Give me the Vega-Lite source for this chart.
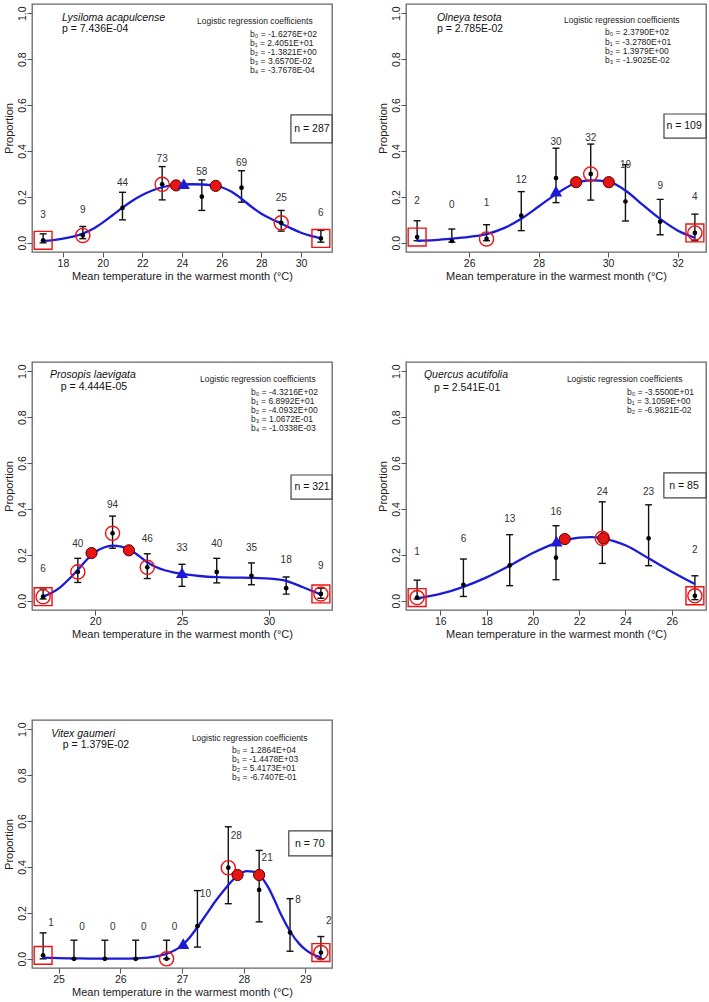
{
"$schema": "https://vega.github.io/schema/vega-lite/v6.json",
"background": "white",
"padding": {"left": 2, "top": 3, "right": 0, "bottom": 0},
"config": {
 "font": "Liberation Sans",
 "view": {"stroke": "#666", "strokeWidth": 1.3},
 "axis": {"domain": false, "grid": false, "tickColor": "#555", "tickSize": 5, "tickWidth": 1, "labelColor": "#222", "labelFontSize": 10.5, "labelFont": "Liberation Sans", "titleFont": "Liberation Sans", "titleFontSize": 11, "titleFontWeight": "normal", "titleColor": "#222", "labelPadding": 1},
 "axisX": {"titlePadding": 2, "format": "d"},
 "axisY": {"labelAngle": 270, "labelAlign": "center", "labelBaseline": "bottom", "labelPadding": 0, "titlePadding": 3},
 "text": {"font": "Liberation Sans"}
},
"datasets": {
 "pts": [
  {"sp":"L","t":17,"p":0.011,"lo":0.0,"hi":0.039,"n":3,"mk":"s"},
  {"sp":"L","t":19,"p":0.032,"lo":0.018,"hi":0.071,"n":9,"mk":"c"},
  {"sp":"L","t":21,"p":0.152,"lo":0.1,"hi":0.22,"n":44,"mk":"-"},
  {"sp":"L","t":23,"p":0.255,"lo":0.187,"hi":0.332,"n":73,"mk":"c"},
  {"sp":"L","t":25,"p":0.201,"lo":0.141,"hi":0.274,"n":58,"mk":"-"},
  {"sp":"L","t":27,"p":0.24,"lo":0.177,"hi":0.314,"n":69,"mk":"-"},
  {"sp":"L","t":29,"p":0.087,"lo":0.051,"hi":0.141,"n":25,"mk":"c"},
  {"sp":"L","t":31,"p":0.019,"lo":0.003,"hi":0.054,"n":6,"mk":"s"},
  {"sp":"O","t":24.5,"p":0.025,"lo":0.009,"hi":0.096,"n":2,"mk":"s"},
  {"sp":"O","t":25.5,"p":0.008,"lo":0.003,"hi":0.06,"n":0,"mk":"-"},
  {"sp":"O","t":26.5,"p":0.017,"lo":0.009,"hi":0.079,"n":1,"mk":"c"},
  {"sp":"O","t":27.5,"p":0.118,"lo":0.053,"hi":0.223,"n":12,"mk":"-"},
  {"sp":"O","t":28.5,"p":0.282,"lo":0.175,"hi":0.412,"n":30,"mk":"-"},
  {"sp":"O","t":29.5,"p":0.3,"lo":0.186,"hi":0.43,"n":32,"mk":"c"},
  {"sp":"O","t":30.5,"p":0.18,"lo":0.095,"hi":0.34,"n":19,"mk":"-"},
  {"sp":"O","t":31.5,"p":0.092,"lo":0.035,"hi":0.189,"n":9,"mk":"-"},
  {"sp":"O","t":32.5,"p":0.043,"lo":0.009,"hi":0.125,"n":4,"mk":"b"},
  {"sp":"P","t":17,"p":0.018,"lo":0.008,"hi":0.051,"n":6,"mk":"b"},
  {"sp":"P","t":19,"p":0.126,"lo":0.08,"hi":0.185,"n":40,"mk":"c"},
  {"sp":"P","t":21,"p":0.294,"lo":0.229,"hi":0.369,"n":94,"mk":"c"},
  {"sp":"P","t":23,"p":0.146,"lo":0.097,"hi":0.205,"n":46,"mk":"c"},
  {"sp":"P","t":25,"p":0.109,"lo":0.063,"hi":0.159,"n":33,"mk":"-"},
  {"sp":"P","t":27,"p":0.126,"lo":0.078,"hi":0.185,"n":40,"mk":"-"},
  {"sp":"P","t":29,"p":0.109,"lo":0.07,"hi":0.165,"n":35,"mk":"-"},
  {"sp":"P","t":31,"p":0.055,"lo":0.029,"hi":0.104,"n":18,"mk":"-"},
  {"sp":"P","t":33,"p":0.03,"lo":0.011,"hi":0.055,"n":9,"mk":"b"},
  {"sp":"Q","t":15,"p":0.014,"lo":0.008,"hi":0.09,"n":1,"mk":"b"},
  {"sp":"Q","t":17,"p":0.07,"lo":0.019,"hi":0.182,"n":6,"mk":"-"},
  {"sp":"Q","t":19,"p":0.154,"lo":0.066,"hi":0.288,"n":13,"mk":"-"},
  {"sp":"Q","t":21,"p":0.188,"lo":0.092,"hi":0.327,"n":16,"mk":"-"},
  {"sp":"Q","t":23,"p":0.272,"lo":0.163,"hi":0.431,"n":24,"mk":"c"},
  {"sp":"Q","t":25,"p":0.272,"lo":0.153,"hi":0.418,"n":23,"mk":"-"},
  {"sp":"Q","t":27,"p":0.022,"lo":0.005,"hi":0.109,"n":2,"mk":"b"},
  {"sp":"V","t":24.75,"p":0.015,"lo":0,"hi":0.113,"n":1,"mk":"s"},
  {"sp":"V","t":25.25,"p":0,"lo":0,"hi":0.081,"n":0,"mk":"-"},
  {"sp":"V","t":25.75,"p":0,"lo":0,"hi":0.081,"n":0,"mk":"-"},
  {"sp":"V","t":26.25,"p":0,"lo":0,"hi":0.081,"n":0,"mk":"-"},
  {"sp":"V","t":26.75,"p":0,"lo":0,"hi":0.081,"n":0,"mk":"c"},
  {"sp":"V","t":27.25,"p":0.142,"lo":0.051,"hi":0.297,"n":10,"mk":"-"},
  {"sp":"V","t":27.75,"p":0.397,"lo":0.24,"hi":0.575,"n":28,"mk":"c"},
  {"sp":"V","t":28.25,"p":0.3,"lo":0.161,"hi":0.472,"n":21,"mk":"-"},
  {"sp":"V","t":28.75,"p":0.115,"lo":0.033,"hi":0.262,"n":8,"mk":"-"},
  {"sp":"V","t":29.25,"p":0.027,"lo":0,"hi":0.097,"n":2,"mk":"b"}
 ],
 "curve": [
  {"sp":"L","t":17,"p":0.008},{"sp":"L","t":17.5,"p":0.012},{"sp":"L","t":18,"p":0.018},{"sp":"L","t":18.5,"p":0.027},{"sp":"L","t":19,"p":0.04},{"sp":"L","t":19.5,"p":0.06},{"sp":"L","t":20,"p":0.088},{"sp":"L","t":20.5,"p":0.12},{"sp":"L","t":21,"p":0.153},{"sp":"L","t":21.5,"p":0.183},{"sp":"L","t":22,"p":0.208},{"sp":"L","t":22.5,"p":0.228},{"sp":"L","t":23,"p":0.242},{"sp":"L","t":23.5,"p":0.25},{"sp":"L","t":24,"p":0.254},{"sp":"L","t":24.5,"p":0.255},{"sp":"L","t":25,"p":0.254},{"sp":"L","t":25.5,"p":0.25},{"sp":"L","t":26,"p":0.242},{"sp":"L","t":26.5,"p":0.222},{"sp":"L","t":27,"p":0.192},{"sp":"L","t":27.5,"p":0.157},{"sp":"L","t":28,"p":0.127},{"sp":"L","t":28.5,"p":0.104},{"sp":"L","t":29,"p":0.084},{"sp":"L","t":29.5,"p":0.063},{"sp":"L","t":30,"p":0.044},{"sp":"L","t":30.5,"p":0.03},{"sp":"L","t":31,"p":0.019},
  {"sp":"O","t":24.5,"p":0.009},{"sp":"O","t":25,"p":0.012},{"sp":"O","t":25.5,"p":0.018},{"sp":"O","t":26,"p":0.026},{"sp":"O","t":26.5,"p":0.038},{"sp":"O","t":27,"p":0.064},{"sp":"O","t":27.5,"p":0.105},{"sp":"O","t":28,"p":0.158},{"sp":"O","t":28.5,"p":0.212},{"sp":"O","t":29,"p":0.256},{"sp":"O","t":29.5,"p":0.272},{"sp":"O","t":30,"p":0.266},{"sp":"O","t":30.5,"p":0.228},{"sp":"O","t":31,"p":0.165},{"sp":"O","t":31.5,"p":0.104},{"sp":"O","t":32,"p":0.054},{"sp":"O","t":32.5,"p":0.022},
  {"sp":"P","t":17,"p":0.018},{"sp":"P","t":17.5,"p":0.035},{"sp":"P","t":18,"p":0.06},{"sp":"P","t":18.5,"p":0.095},{"sp":"P","t":19,"p":0.135},{"sp":"P","t":19.5,"p":0.178},{"sp":"P","t":20,"p":0.212},{"sp":"P","t":20.5,"p":0.232},{"sp":"P","t":21,"p":0.24},{"sp":"P","t":21.5,"p":0.236},{"sp":"P","t":22,"p":0.222},{"sp":"P","t":22.5,"p":0.197},{"sp":"P","t":23,"p":0.168},{"sp":"P","t":23.5,"p":0.147},{"sp":"P","t":24,"p":0.133},{"sp":"P","t":24.5,"p":0.124},{"sp":"P","t":25,"p":0.117},{"sp":"P","t":26,"p":0.108},{"sp":"P","t":27,"p":0.103},{"sp":"P","t":28,"p":0.101},{"sp":"P","t":29,"p":0.1},{"sp":"P","t":30,"p":0.097},{"sp":"P","t":31,"p":0.087},{"sp":"P","t":32,"p":0.058},{"sp":"P","t":33,"p":0.027},
  {"sp":"Q","t":15,"p":0.011},{"sp":"Q","t":16,"p":0.03},{"sp":"Q","t":17,"p":0.061},{"sp":"Q","t":18,"p":0.102},{"sp":"Q","t":19,"p":0.153},{"sp":"Q","t":20,"p":0.208},{"sp":"Q","t":21,"p":0.251},{"sp":"Q","t":21.5,"p":0.266},{"sp":"Q","t":22,"p":0.275},{"sp":"Q","t":22.5,"p":0.277},{"sp":"Q","t":23,"p":0.272},{"sp":"Q","t":23.5,"p":0.26},{"sp":"Q","t":24,"p":0.242},{"sp":"Q","t":25,"p":0.185},{"sp":"Q","t":26,"p":0.127},{"sp":"Q","t":27,"p":0.073},
  {"sp":"V","t":24.75,"p":0.005},{"sp":"V","t":25,"p":0.003},{"sp":"V","t":25.25,"p":0.002},{"sp":"V","t":25.5,"p":0.001},{"sp":"V","t":25.75,"p":0.001},{"sp":"V","t":26,"p":0.001},{"sp":"V","t":26.25,"p":0.002},{"sp":"V","t":26.5,"p":0.007},{"sp":"V","t":26.75,"p":0.022},{"sp":"V","t":27,"p":0.058},{"sp":"V","t":27.1,"p":0.085},{"sp":"V","t":27.25,"p":0.138},{"sp":"V","t":27.4,"p":0.196},{"sp":"V","t":27.55,"p":0.254},{"sp":"V","t":27.7,"p":0.305},{"sp":"V","t":27.8,"p":0.337},{"sp":"V","t":27.9,"p":0.362},{"sp":"V","t":28.05,"p":0.382},{"sp":"V","t":28.15,"p":0.38},{"sp":"V","t":28.25,"p":0.366},{"sp":"V","t":28.4,"p":0.31},{"sp":"V","t":28.5,"p":0.255},{"sp":"V","t":28.6,"p":0.195},{"sp":"V","t":28.75,"p":0.12},{"sp":"V","t":28.9,"p":0.065},{"sp":"V","t":29,"p":0.04},{"sp":"V","t":29.1,"p":0.022},{"sp":"V","t":29.25,"p":0.006}
 ],
 "opt": [
  {"sp":"L","k":"m","t":23.7,"p":0.25},{"sp":"L","k":"m","t":25.7,"p":0.248},{"sp":"L","k":"t","t":24.09,"p":0.257},
  {"sp":"O","k":"m","t":29.08,"p":0.264},{"sp":"O","k":"m","t":30.02,"p":0.264},{"sp":"O","k":"t","t":28.5,"p":0.225},
  {"sp":"P","k":"m","t":19.79,"p":0.208},{"sp":"P","k":"m","t":21.94,"p":0.22},{"sp":"P","k":"t","t":25,"p":0.122},
  {"sp":"Q","k":"m","t":21.38,"p":0.269},{"sp":"Q","k":"m","t":23.04,"p":0.272},{"sp":"Q","k":"t","t":21.02,"p":0.26},
  {"sp":"V","k":"m","t":27.9,"p":0.365},{"sp":"V","k":"m","t":28.25,"p":0.365},{"sp":"V","k":"t","t":27.02,"p":0.066}
 ],
 "info": [
  {"sp":"L","name":"Lysiloma acapulcense","pv":"p = 7.436E-04","n":"n = 287","coef":["b₀ = -1.6276E+02","b₁ = 2.4051E+01","b₂ = -1.3821E+00","b₃ = 3.6570E-02","b₄ = -3.7678E-04"]},
  {"sp":"O","name":"Olneya tesota","pv":"p = 2.785E-02","n":"n = 109","coef":["b₀ = 2.3790E+02","b₁ = -3.2780E+01","b₂ = 1.3979E+00","b₃ = -1.9025E-02"]},
  {"sp":"P","name":"Prosopis laevigata","pv":"p = 4.444E-05","n":"n = 321","coef":["b₀ = -4.3216E+02","b₁ = 6.8992E+01","b₂ = -4.0932E+00","b₃ = 1.0672E-01","b₄ = -1.0338E-03"]},
  {"sp":"Q","name":"Quercus acutifolia","pv":"p = 2.541E-01","n":"n = 85","coef":["b₀ = -3.5500E+01","b₁ = 3.1059E+00","b₂ = -6.9821E-02"]},
  {"sp":"V","name":"Vitex gaumeri","pv":"p = 1.379E-02","n":"n = 70","coef":["b₀ = 1.2864E+04","b₁ = -1.4478E+03","b₂ = 5.4173E+01","b₃ = -6.7407E-01"]}
 ]
},
"columns": 2,
"spacing": {"row": 78, "column": 42},
"concat": [
 {"width": 300, "height": 248, "layer": [
  {"data":{"name":"pts"},"transform":[{"filter":"datum.sp==='L'"}],"mark":{"type":"rule","color":"#111","strokeWidth":1.4},
   "encoding":{"x":{"field":"t","type":"quantitative","scale":{"domain":[16.44,31.56],"nice":false,"zero":false},"axis":{"values":[18,20,22,24,26,28,30]},"title":"Mean temperature in the warmest month (°C)"},
    "y":{"field":"lo","type":"quantitative","scale":{"domain":[-0.04,1.04],"nice":false,"zero":false},"axis":{"values":[0,0.2,0.4,0.6,0.8,1],"format":".1f"},"title":"Proportion"},"y2":{"field":"hi"}}},
  {"data":{"name":"pts"},"transform":[{"filter":"datum.sp==='L'"}],"mark":{"type":"tick","orient":"horizontal","color":"#111","size":7,"thickness":1.4,"opacity":1},"encoding":{"x":{"field":"t","type":"quantitative"},"y":{"field":"lo","type":"quantitative"}}},
  {"data":{"name":"pts"},"transform":[{"filter":"datum.sp==='L'"}],"mark":{"type":"tick","orient":"horizontal","color":"#111","size":7,"thickness":1.4,"opacity":1},"encoding":{"x":{"field":"t","type":"quantitative"},"y":{"field":"hi","type":"quantitative"}}},
  {"data":{"name":"curve"},"transform":[{"filter":"datum.sp==='L'"}],"mark":{"type":"line","color":"#1a1ad8","strokeWidth":2.3,"interpolate":"monotone"},"encoding":{"x":{"field":"t","type":"quantitative"},"y":{"field":"p","type":"quantitative"}}},
  {"data":{"name":"pts"},"transform":[{"filter":"datum.sp==='L'"}],"mark":{"type":"circle","color":"#000","size":22,"opacity":1},"encoding":{"x":{"field":"t","type":"quantitative"},"y":{"field":"p","type":"quantitative"}}},
  {"data":{"name":"pts"},"transform":[{"filter":"datum.sp==='L' && (datum.mk==='c' || datum.mk==='b')"}],"mark":{"type":"point","shape":"circle","filled":false,"color":"#f01010","strokeWidth":1.4,"size":200,"opacity":1},"encoding":{"x":{"field":"t","type":"quantitative"},"y":{"field":"p","type":"quantitative"}}},
  {"data":{"name":"pts"},"transform":[{"filter":"datum.sp==='L' && (datum.mk==='s' || datum.mk==='b')"}],"mark":{"type":"point","shape":"square","filled":false,"color":"#f01010","strokeWidth":1.4,"size":320,"opacity":1},"encoding":{"x":{"field":"t","type":"quantitative"},"y":{"field":"p","type":"quantitative"}}},
  {"data":{"name":"opt"},"transform":[{"filter":"datum.sp==='L' && datum.k==='m'"}],"mark":{"type":"circle","color":"#e81414","stroke":"#500","strokeWidth":1,"size":125,"opacity":1},"encoding":{"x":{"field":"t","type":"quantitative"},"y":{"field":"p","type":"quantitative"}}},
  {"data":{"name":"opt"},"transform":[{"filter":"datum.sp==='L' && datum.k==='t'"}],"mark":{"type":"point","shape":"triangle-up","filled":true,"color":"#1a1ad8","size":150,"opacity":1},"encoding":{"x":{"field":"t","type":"quantitative"},"y":{"field":"p","type":"quantitative"}}},
  {"data":{"name":"pts"},"transform":[{"filter":"datum.sp==='L'"}],"mark":{"type":"text","fontSize":10,"color":"#333","dy":-25},"encoding":{"x":{"field":"t","type":"quantitative"},"y":{"field":"p","type":"quantitative"},"text":{"field":"n","type":"nominal"}}},
  {"data":{"name":"info"},"transform":[{"filter":"datum.sp==='L'"}],"mark":{"type":"text","fontSize":10.5,"fontStyle":"italic","align":"left","color":"#111"},"encoding":{"x":{"datum":17.95},"y":{"datum":0.979},"text":{"field":"name","type":"nominal"}}},
  {"data":{"name":"info"},"transform":[{"filter":"datum.sp==='L'"}],"mark":{"type":"text","fontSize":10.5,"align":"left","color":"#111"},"encoding":{"x":{"datum":17.95},"y":{"datum":0.931},"text":{"field":"pv","type":"nominal"}}},
  {"data":{"name":"info"},"transform":[{"filter":"datum.sp==='L'"}],"mark":{"type":"text","fontSize":8.5,"align":"left","color":"#222","text":"Logistic regression coefficients"},"encoding":{"x":{"datum":24.76},"y":{"datum":0.966}}},
  {"data":{"name":"info"},"transform":[{"filter":"datum.sp==='L'"}],"mark":{"type":"text","fontSize":8.5,"align":"left","baseline":"top","lineHeight":9.2,"color":"#222"},"encoding":{"x":{"datum":27.43},"y":{"datum":0.9285},"text":{"field":"coef","type":"nominal"}}},
  {"data":{"name":"info"},"transform":[{"filter":"datum.sp==='L'"}],"mark":{"type":"rect","fill":"white","stroke":"#444","strokeWidth":1.2},"encoding":{"x":{"datum":29.49},"x2":{"datum":31.56},"y":{"datum":0.557},"y2":{"datum":0.435}}},
  {"data":{"name":"info"},"transform":[{"filter":"datum.sp==='L'"}],"mark":{"type":"text","fontSize":10.5,"color":"#111"},"encoding":{"x":{"datum":30.55},"y":{"datum":0.496},"text":{"field":"n","type":"nominal"}}}
 ]},
 {"width": 300, "height": 248, "layer": [
  {"data":{"name":"pts"},"transform":[{"filter":"datum.sp==='O'"}],"mark":{"type":"rule","color":"#111","strokeWidth":1.4},
   "encoding":{"x":{"field":"t","type":"quantitative","scale":{"domain":[24.18,32.82],"nice":false,"zero":false},"axis":{"values":[26,28,30,32]},"title":"Mean temperature in the warmest month (°C)"},
    "y":{"field":"lo","type":"quantitative","scale":{"domain":[-0.04,1.04],"nice":false,"zero":false},"axis":{"values":[0,0.2,0.4,0.6,0.8,1],"format":".1f"},"title":"Proportion"},"y2":{"field":"hi"}}},
  {"data":{"name":"pts"},"transform":[{"filter":"datum.sp==='O'"}],"mark":{"type":"tick","orient":"horizontal","color":"#111","size":7,"thickness":1.4,"opacity":1},"encoding":{"x":{"field":"t","type":"quantitative"},"y":{"field":"lo","type":"quantitative"}}},
  {"data":{"name":"pts"},"transform":[{"filter":"datum.sp==='O'"}],"mark":{"type":"tick","orient":"horizontal","color":"#111","size":7,"thickness":1.4,"opacity":1},"encoding":{"x":{"field":"t","type":"quantitative"},"y":{"field":"hi","type":"quantitative"}}},
  {"data":{"name":"curve"},"transform":[{"filter":"datum.sp==='O'"}],"mark":{"type":"line","color":"#1a1ad8","strokeWidth":2.3,"interpolate":"monotone"},"encoding":{"x":{"field":"t","type":"quantitative"},"y":{"field":"p","type":"quantitative"}}},
  {"data":{"name":"pts"},"transform":[{"filter":"datum.sp==='O'"}],"mark":{"type":"circle","color":"#000","size":22,"opacity":1},"encoding":{"x":{"field":"t","type":"quantitative"},"y":{"field":"p","type":"quantitative"}}},
  {"data":{"name":"pts"},"transform":[{"filter":"datum.sp==='O' && (datum.mk==='c' || datum.mk==='b')"}],"mark":{"type":"point","shape":"circle","filled":false,"color":"#f01010","strokeWidth":1.4,"size":200,"opacity":1},"encoding":{"x":{"field":"t","type":"quantitative"},"y":{"field":"p","type":"quantitative"}}},
  {"data":{"name":"pts"},"transform":[{"filter":"datum.sp==='O' && (datum.mk==='s' || datum.mk==='b')"}],"mark":{"type":"point","shape":"square","filled":false,"color":"#f01010","strokeWidth":1.4,"size":320,"opacity":1},"encoding":{"x":{"field":"t","type":"quantitative"},"y":{"field":"p","type":"quantitative"}}},
  {"data":{"name":"opt"},"transform":[{"filter":"datum.sp==='O' && datum.k==='m'"}],"mark":{"type":"circle","color":"#e81414","stroke":"#500","strokeWidth":1,"size":125,"opacity":1},"encoding":{"x":{"field":"t","type":"quantitative"},"y":{"field":"p","type":"quantitative"}}},
  {"data":{"name":"opt"},"transform":[{"filter":"datum.sp==='O' && datum.k==='t'"}],"mark":{"type":"point","shape":"triangle-up","filled":true,"color":"#1a1ad8","size":150,"opacity":1},"encoding":{"x":{"field":"t","type":"quantitative"},"y":{"field":"p","type":"quantitative"}}},
  {"data":{"name":"pts"},"transform":[{"filter":"datum.sp==='O'"}],"mark":{"type":"text","fontSize":10,"color":"#333","dy":-36},"encoding":{"x":{"field":"t","type":"quantitative"},"y":{"field":"p","type":"quantitative"},"text":{"field":"n","type":"nominal"}}},
  {"data":{"name":"info"},"transform":[{"filter":"datum.sp==='O'"}],"mark":{"type":"text","fontSize":10.5,"fontStyle":"italic","align":"left","color":"#111"},"encoding":{"x":{"datum":25.07},"y":{"datum":0.979},"text":{"field":"name","type":"nominal"}}},
  {"data":{"name":"info"},"transform":[{"filter":"datum.sp==='O'"}],"mark":{"type":"text","fontSize":10.5,"align":"left","color":"#111"},"encoding":{"x":{"datum":25.07},"y":{"datum":0.931},"text":{"field":"pv","type":"nominal"}}},
  {"data":{"name":"info"},"transform":[{"filter":"datum.sp==='O'"}],"mark":{"type":"text","fontSize":8.5,"align":"left","color":"#222","text":"Logistic regression coefficients"},"encoding":{"x":{"datum":28.73},"y":{"datum":0.97}}},
  {"data":{"name":"info"},"transform":[{"filter":"datum.sp==='O'"}],"mark":{"type":"text","fontSize":8.5,"align":"left","baseline":"top","lineHeight":9.1,"color":"#222"},"encoding":{"x":{"datum":29.91},"y":{"datum":0.9335},"text":{"field":"coef","type":"nominal"}}},
  {"data":{"name":"info"},"transform":[{"filter":"datum.sp==='O'"}],"mark":{"type":"rect","fill":"white","stroke":"#444","strokeWidth":1.2},"encoding":{"x":{"datum":31.61},"x2":{"datum":32.82},"y":{"datum":0.561},"y2":{"datum":0.456}}},
  {"data":{"name":"info"},"transform":[{"filter":"datum.sp==='O'"}],"mark":{"type":"text","fontSize":10.5,"color":"#111"},"encoding":{"x":{"datum":32.19},"y":{"datum":0.509},"text":{"field":"n","type":"nominal"}}}
 ]},
 {"width": 300, "height": 248, "layer": [
  {"data":{"name":"pts"},"transform":[{"filter":"datum.sp==='P'"}],"mark":{"type":"rule","color":"#111","strokeWidth":1.4},
   "encoding":{"x":{"field":"t","type":"quantitative","scale":{"domain":[16.36,33.64],"nice":false,"zero":false},"axis":{"values":[20,25,30]},"title":"Mean temperature in the warmest month (°C)"},
    "y":{"field":"lo","type":"quantitative","scale":{"domain":[-0.04,1.04],"nice":false,"zero":false},"axis":{"values":[0,0.2,0.4,0.6,0.8,1],"format":".1f"},"title":"Proportion"},"y2":{"field":"hi"}}},
  {"data":{"name":"pts"},"transform":[{"filter":"datum.sp==='P'"}],"mark":{"type":"tick","orient":"horizontal","color":"#111","size":7,"thickness":1.4,"opacity":1},"encoding":{"x":{"field":"t","type":"quantitative"},"y":{"field":"lo","type":"quantitative"}}},
  {"data":{"name":"pts"},"transform":[{"filter":"datum.sp==='P'"}],"mark":{"type":"tick","orient":"horizontal","color":"#111","size":7,"thickness":1.4,"opacity":1},"encoding":{"x":{"field":"t","type":"quantitative"},"y":{"field":"hi","type":"quantitative"}}},
  {"data":{"name":"curve"},"transform":[{"filter":"datum.sp==='P'"}],"mark":{"type":"line","color":"#1a1ad8","strokeWidth":2.3,"interpolate":"monotone"},"encoding":{"x":{"field":"t","type":"quantitative"},"y":{"field":"p","type":"quantitative"}}},
  {"data":{"name":"pts"},"transform":[{"filter":"datum.sp==='P'"}],"mark":{"type":"circle","color":"#000","size":22,"opacity":1},"encoding":{"x":{"field":"t","type":"quantitative"},"y":{"field":"p","type":"quantitative"}}},
  {"data":{"name":"pts"},"transform":[{"filter":"datum.sp==='P' && (datum.mk==='c' || datum.mk==='b')"}],"mark":{"type":"point","shape":"circle","filled":false,"color":"#f01010","strokeWidth":1.4,"size":200,"opacity":1},"encoding":{"x":{"field":"t","type":"quantitative"},"y":{"field":"p","type":"quantitative"}}},
  {"data":{"name":"pts"},"transform":[{"filter":"datum.sp==='P' && (datum.mk==='s' || datum.mk==='b')"}],"mark":{"type":"point","shape":"square","filled":false,"color":"#f01010","strokeWidth":1.4,"size":320,"opacity":1},"encoding":{"x":{"field":"t","type":"quantitative"},"y":{"field":"p","type":"quantitative"}}},
  {"data":{"name":"opt"},"transform":[{"filter":"datum.sp==='P' && datum.k==='m'"}],"mark":{"type":"circle","color":"#e81414","stroke":"#500","strokeWidth":1,"size":125,"opacity":1},"encoding":{"x":{"field":"t","type":"quantitative"},"y":{"field":"p","type":"quantitative"}}},
  {"data":{"name":"opt"},"transform":[{"filter":"datum.sp==='P' && datum.k==='t'"}],"mark":{"type":"point","shape":"triangle-up","filled":true,"color":"#1a1ad8","size":150,"opacity":1},"encoding":{"x":{"field":"t","type":"quantitative"},"y":{"field":"p","type":"quantitative"}}},
  {"data":{"name":"pts"},"transform":[{"filter":"datum.sp==='P'"}],"mark":{"type":"text","fontSize":10,"color":"#333","dy":-28},"encoding":{"x":{"field":"t","type":"quantitative"},"y":{"field":"p","type":"quantitative"},"text":{"field":"n","type":"nominal"}}},
  {"data":{"name":"info"},"transform":[{"filter":"datum.sp==='P'"}],"mark":{"type":"text","fontSize":10.5,"fontStyle":"italic","align":"center","color":"#111"},"encoding":{"x":{"datum":19.87},"y":{"datum":0.983},"text":{"field":"name","type":"nominal"}}},
  {"data":{"name":"info"},"transform":[{"filter":"datum.sp==='P'"}],"mark":{"type":"text","fontSize":10.5,"align":"center","color":"#111"},"encoding":{"x":{"datum":19.93},"y":{"datum":0.931},"text":{"field":"pv","type":"nominal"}}},
  {"data":{"name":"info"},"transform":[{"filter":"datum.sp==='P'"}],"mark":{"type":"text","fontSize":8.5,"align":"left","color":"#222","text":"Logistic regression coefficients"},"encoding":{"x":{"datum":26.04},"y":{"datum":0.966}}},
  {"data":{"name":"info"},"transform":[{"filter":"datum.sp==='P'"}],"mark":{"type":"text","fontSize":8.5,"align":"left","baseline":"top","lineHeight":9.1,"color":"#222"},"encoding":{"x":{"datum":28.98},"y":{"datum":0.927},"text":{"field":"coef","type":"nominal"}}},
  {"data":{"name":"info"},"transform":[{"filter":"datum.sp==='P'"}],"mark":{"type":"rect","fill":"white","stroke":"#444","strokeWidth":1.2},"encoding":{"x":{"datum":31.28},"x2":{"datum":33.64},"y":{"datum":0.548},"y2":{"datum":0.443}}},
  {"data":{"name":"info"},"transform":[{"filter":"datum.sp==='P'"}],"mark":{"type":"text","fontSize":10.5,"color":"#111"},"encoding":{"x":{"datum":32.49},"y":{"datum":0.496},"text":{"field":"n","type":"nominal"}}}
 ]},
 {"width": 300, "height": 248, "layer": [
  {"data":{"name":"pts"},"transform":[{"filter":"datum.sp==='Q'"}],"mark":{"type":"rule","color":"#111","strokeWidth":1.4},
   "encoding":{"x":{"field":"t","type":"quantitative","scale":{"domain":[14.52,27.48],"nice":false,"zero":false},"axis":{"values":[16,18,20,22,24,26]},"title":"Mean temperature in the warmest month (°C)"},
    "y":{"field":"lo","type":"quantitative","scale":{"domain":[-0.04,1.04],"nice":false,"zero":false},"axis":{"values":[0,0.2,0.4,0.6,0.8,1],"format":".1f"},"title":"Proportion"},"y2":{"field":"hi"}}},
  {"data":{"name":"pts"},"transform":[{"filter":"datum.sp==='Q'"}],"mark":{"type":"tick","orient":"horizontal","color":"#111","size":7,"thickness":1.4,"opacity":1},"encoding":{"x":{"field":"t","type":"quantitative"},"y":{"field":"lo","type":"quantitative"}}},
  {"data":{"name":"pts"},"transform":[{"filter":"datum.sp==='Q'"}],"mark":{"type":"tick","orient":"horizontal","color":"#111","size":7,"thickness":1.4,"opacity":1},"encoding":{"x":{"field":"t","type":"quantitative"},"y":{"field":"hi","type":"quantitative"}}},
  {"data":{"name":"curve"},"transform":[{"filter":"datum.sp==='Q'"}],"mark":{"type":"line","color":"#1a1ad8","strokeWidth":2.3,"interpolate":"monotone"},"encoding":{"x":{"field":"t","type":"quantitative"},"y":{"field":"p","type":"quantitative"}}},
  {"data":{"name":"pts"},"transform":[{"filter":"datum.sp==='Q'"}],"mark":{"type":"circle","color":"#000","size":22,"opacity":1},"encoding":{"x":{"field":"t","type":"quantitative"},"y":{"field":"p","type":"quantitative"}}},
  {"data":{"name":"pts"},"transform":[{"filter":"datum.sp==='Q' && (datum.mk==='c' || datum.mk==='b')"}],"mark":{"type":"point","shape":"circle","filled":false,"color":"#f01010","strokeWidth":1.4,"size":200,"opacity":1},"encoding":{"x":{"field":"t","type":"quantitative"},"y":{"field":"p","type":"quantitative"}}},
  {"data":{"name":"pts"},"transform":[{"filter":"datum.sp==='Q' && (datum.mk==='s' || datum.mk==='b')"}],"mark":{"type":"point","shape":"square","filled":false,"color":"#f01010","strokeWidth":1.4,"size":320,"opacity":1},"encoding":{"x":{"field":"t","type":"quantitative"},"y":{"field":"p","type":"quantitative"}}},
  {"data":{"name":"opt"},"transform":[{"filter":"datum.sp==='Q' && datum.k==='m'"}],"mark":{"type":"circle","color":"#e81414","stroke":"#500","strokeWidth":1,"size":125,"opacity":1},"encoding":{"x":{"field":"t","type":"quantitative"},"y":{"field":"p","type":"quantitative"}}},
  {"data":{"name":"opt"},"transform":[{"filter":"datum.sp==='Q' && datum.k==='t'"}],"mark":{"type":"point","shape":"triangle-up","filled":true,"color":"#1a1ad8","size":150,"opacity":1},"encoding":{"x":{"field":"t","type":"quantitative"},"y":{"field":"p","type":"quantitative"}}},
  {"data":{"name":"pts"},"transform":[{"filter":"datum.sp==='Q'"}],"mark":{"type":"text","fontSize":10,"color":"#333","dy":-46},"encoding":{"x":{"field":"t","type":"quantitative"},"y":{"field":"p","type":"quantitative"},"text":{"field":"n","type":"nominal"}}},
  {"data":{"name":"info"},"transform":[{"filter":"datum.sp==='Q'"}],"mark":{"type":"text","fontSize":10.5,"fontStyle":"italic","align":"center","color":"#111"},"encoding":{"x":{"datum":17.11},"y":{"datum":0.983},"text":{"field":"name","type":"nominal"}}},
  {"data":{"name":"info"},"transform":[{"filter":"datum.sp==='Q'"}],"mark":{"type":"text","fontSize":10.5,"align":"center","color":"#111"},"encoding":{"x":{"datum":17.16},"y":{"datum":0.927},"text":{"field":"pv","type":"nominal"}}},
  {"data":{"name":"info"},"transform":[{"filter":"datum.sp==='Q'"}],"mark":{"type":"text","fontSize":8.5,"align":"left","color":"#222","text":"Logistic regression coefficients"},"encoding":{"x":{"datum":21.47},"y":{"datum":0.966}}},
  {"data":{"name":"info"},"transform":[{"filter":"datum.sp==='Q'"}],"mark":{"type":"text","fontSize":8.5,"align":"left","baseline":"top","lineHeight":9.1,"color":"#222"},"encoding":{"x":{"datum":24.07},"y":{"datum":0.9285},"text":{"field":"coef","type":"nominal"}}},
  {"data":{"name":"info"},"transform":[{"filter":"datum.sp==='Q'"}],"mark":{"type":"rect","fill":"white","stroke":"#444","strokeWidth":1.2},"encoding":{"x":{"datum":25.66},"x2":{"datum":27.48},"y":{"datum":0.557},"y2":{"datum":0.448}}},
  {"data":{"name":"info"},"transform":[{"filter":"datum.sp==='Q'"}],"mark":{"type":"text","fontSize":10.5,"color":"#111"},"encoding":{"x":{"datum":26.53},"y":{"datum":0.502},"text":{"field":"n","type":"nominal"}}}
 ]},
 {"width": 300, "height": 248, "layer": [
  {"data":{"name":"pts"},"transform":[{"filter":"datum.sp==='V'"}],"mark":{"type":"rule","color":"#111","strokeWidth":1.4},
   "encoding":{"x":{"field":"t","type":"quantitative","scale":{"domain":[24.57,29.43],"nice":false,"zero":false},"axis":{"values":[25,26,27,28,29]},"title":"Mean temperature in the warmest month (°C)"},
    "y":{"field":"lo","type":"quantitative","scale":{"domain":[-0.04,1.04],"nice":false,"zero":false},"axis":{"values":[0,0.2,0.4,0.6,0.8,1],"format":".1f"},"title":"Proportion"},"y2":{"field":"hi"}}},
  {"data":{"name":"pts"},"transform":[{"filter":"datum.sp==='V'"}],"mark":{"type":"tick","orient":"horizontal","color":"#111","size":7,"thickness":1.4,"opacity":1},"encoding":{"x":{"field":"t","type":"quantitative"},"y":{"field":"lo","type":"quantitative"}}},
  {"data":{"name":"pts"},"transform":[{"filter":"datum.sp==='V'"}],"mark":{"type":"tick","orient":"horizontal","color":"#111","size":7,"thickness":1.4,"opacity":1},"encoding":{"x":{"field":"t","type":"quantitative"},"y":{"field":"hi","type":"quantitative"}}},
  {"data":{"name":"curve"},"transform":[{"filter":"datum.sp==='V'"}],"mark":{"type":"line","color":"#1a1ad8","strokeWidth":2.3,"interpolate":"monotone"},"encoding":{"x":{"field":"t","type":"quantitative"},"y":{"field":"p","type":"quantitative"}}},
  {"data":{"name":"pts"},"transform":[{"filter":"datum.sp==='V'"}],"mark":{"type":"circle","color":"#000","size":22,"opacity":1},"encoding":{"x":{"field":"t","type":"quantitative"},"y":{"field":"p","type":"quantitative"}}},
  {"data":{"name":"pts"},"transform":[{"filter":"datum.sp==='V' && (datum.mk==='c' || datum.mk==='b')"}],"mark":{"type":"point","shape":"circle","filled":false,"color":"#f01010","strokeWidth":1.4,"size":200,"opacity":1},"encoding":{"x":{"field":"t","type":"quantitative"},"y":{"field":"p","type":"quantitative"}}},
  {"data":{"name":"pts"},"transform":[{"filter":"datum.sp==='V' && (datum.mk==='s' || datum.mk==='b')"}],"mark":{"type":"point","shape":"square","filled":false,"color":"#f01010","strokeWidth":1.4,"size":320,"opacity":1},"encoding":{"x":{"field":"t","type":"quantitative"},"y":{"field":"p","type":"quantitative"}}},
  {"data":{"name":"opt"},"transform":[{"filter":"datum.sp==='V' && datum.k==='m'"}],"mark":{"type":"circle","color":"#e81414","stroke":"#500","strokeWidth":1,"size":125,"opacity":1},"encoding":{"x":{"field":"t","type":"quantitative"},"y":{"field":"p","type":"quantitative"}}},
  {"data":{"name":"opt"},"transform":[{"filter":"datum.sp==='V' && datum.k==='t'"}],"mark":{"type":"point","shape":"triangle-up","filled":true,"color":"#1a1ad8","size":150,"opacity":1},"encoding":{"x":{"field":"t","type":"quantitative"},"y":{"field":"p","type":"quantitative"}}},
  {"data":{"name":"pts"},"transform":[{"filter":"datum.sp==='V'"}],"mark":{"type":"text","fontSize":10,"color":"#333","dy":-32,"dx":8},"encoding":{"x":{"field":"t","type":"quantitative"},"y":{"field":"p","type":"quantitative"},"text":{"field":"n","type":"nominal"}}},
  {"data":{"name":"info"},"transform":[{"filter":"datum.sp==='V'"}],"mark":{"type":"text","fontSize":10.5,"fontStyle":"italic","align":"left","color":"#111"},"encoding":{"x":{"datum":24.88},"y":{"datum":0.979},"text":{"field":"name","type":"nominal"}}},
  {"data":{"name":"info"},"transform":[{"filter":"datum.sp==='V'"}],"mark":{"type":"text","fontSize":10.5,"align":"left","color":"#111"},"encoding":{"x":{"datum":25.07},"y":{"datum":0.931},"text":{"field":"pv","type":"nominal"}}},
  {"data":{"name":"info"},"transform":[{"filter":"datum.sp==='V'"}],"mark":{"type":"text","fontSize":8.5,"align":"left","color":"#222","text":"Logistic regression coefficients"},"encoding":{"x":{"datum":27.16},"y":{"datum":0.962}}},
  {"data":{"name":"info"},"transform":[{"filter":"datum.sp==='V'"}],"mark":{"type":"text","fontSize":8.5,"align":"left","baseline":"top","lineHeight":9.0,"color":"#222"},"encoding":{"x":{"datum":27.81},"y":{"datum":0.9285},"text":{"field":"coef","type":"nominal"}}},
  {"data":{"name":"info"},"transform":[{"filter":"datum.sp==='V'"}],"mark":{"type":"rect","fill":"white","stroke":"#444","strokeWidth":1.2},"encoding":{"x":{"datum":28.73},"x2":{"datum":29.43},"y":{"datum":0.557},"y2":{"datum":0.448}}},
  {"data":{"name":"info"},"transform":[{"filter":"datum.sp==='V'"}],"mark":{"type":"text","fontSize":10.5,"color":"#111"},"encoding":{"x":{"datum":29.07},"y":{"datum":0.502},"text":{"field":"n","type":"nominal"}}}
 ]}
]
}
